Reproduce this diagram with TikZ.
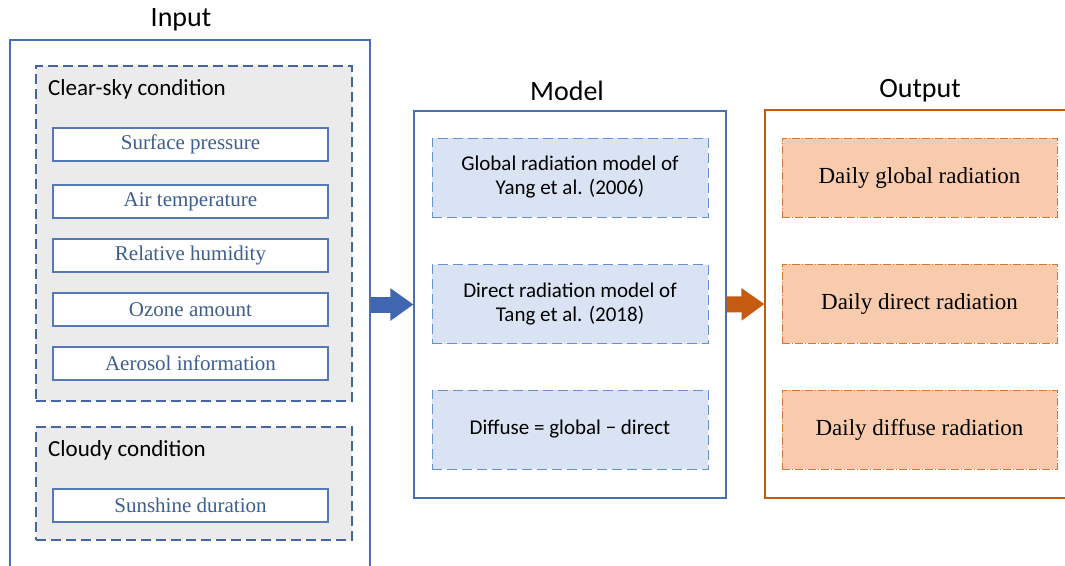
\documentclass[tikz,border=0pt]{standalone}
\usepackage{fontspec}
\setmainfont{Liberation Serif}
\newfontfamily\calibri{Carlito}
\usepackage{tikz}
\usetikzlibrary{arrows.meta,positioning}

\definecolor{frameblue}{HTML}{4A6FB0}
\definecolor{dashblue}{HTML}{44659E}
\definecolor{boxblue}{HTML}{5479B5}
\definecolor{textblue}{HTML}{3E5F8E}
\definecolor{modelfill}{HTML}{DAE3F3}
\definecolor{modeldash}{HTML}{6A8FD0}
\definecolor{arrowblue}{HTML}{3F66B0}
\definecolor{outorange}{HTML}{C55A11}
\definecolor{outfill}{HTML}{F8CBAD}
\definecolor{outdash}{HTML}{D2773A}
\definecolor{grayfill}{HTML}{EBEBEB}

\begin{document}
\begin{tikzpicture}[x=1pt,y=-1pt]
\tikzstyle{title}=[font=\calibri\fontsize{28}{32}\selectfont]
\tikzstyle{frame}=[draw=frameblue,line width=1.1pt,inner sep=0pt]
\tikzstyle{group}=[draw=dashblue,fill=grayfill,line width=1.4pt,dash pattern=on 10pt off 5pt,minimum width=316pt,inner sep=0pt]
\tikzstyle{grouplabel}=[anchor=west,inner sep=0pt,font=\calibri\fontsize{23}{26}\selectfont]
\tikzstyle{inbox}=[draw=boxblue,fill=white,line width=1.4pt,minimum width=275pt,minimum height=33pt,inner sep=0pt,outer sep=0pt,text=textblue,font=\fontsize{21}{23}\selectfont]
\tikzstyle{modelbox}=[draw=modeldash,fill=modelfill,line width=1pt,dash pattern=on 10pt off 5pt,minimum width=276pt,minimum height=79pt,inner sep=0pt,align=center,font=\calibri\fontsize{21}{24}\selectfont]
\tikzstyle{outbox}=[draw=outdash,fill=outfill,line width=0.8pt,dash pattern=on 8pt off 2pt on 1pt off 2pt,minimum width=275pt,minimum height=79pt,inner sep=0pt,font=\fontsize{23}{26}\selectfont]
\tikzstyle{fatarrow}=[line width=16pt,-{Triangle[length=23pt,width=31pt]}]

\useasboundingbox (0,0) rectangle (1065,565);
\clip (0,0) rectangle (1065,565);

% input
\node[title] (inputtitle) at (181,20) {Input};
\node[frame,minimum width=360pt,minimum height=560pt] (input) at (190,320) {};
\node[group,minimum height=335pt] (clearsky) at (194,233.5) {};
\node[grouplabel] (clearlabel) at (48,89) {Clear-sky condition};
\node[inbox] (pressure) at (190.5,144.5) {Surface pressure};
\node[inbox,below=24pt of pressure] (temperature) {Air temperature};
\node[inbox,below=21pt of temperature] (humidity) {Relative humidity};
\node[inbox,below=21pt of humidity] (ozone) {Ozone amount};
\node[inbox,below=21pt of ozone] (aerosol) {Aerosol information};
\node[group,minimum height=113pt] (cloudy) at (194,483.5) {};
\node[grouplabel] (cloudylabel) at (48,450) {Cloudy condition};
\node[inbox] (sunshine) at (190.5,505.5) {Sunshine duration};

% model
\node[title] (modeltitle) at (567,91) {Model};
\node[frame,minimum width=312pt,minimum height=387pt] (model) at (570,304.5) {};
\node[modelbox] (global) at (570,177.5) {Global radiation model of\\Yang et al. (2006)};
\node[modelbox] (direct) at (570,304) {Direct radiation model of\\Tang et al. (2018)};
\node[modelbox] (diffuse) at (570,429.5) {Diffuse = global − direct};

% output
\node[title] (outputtitle) at (920,91) {Output};
\node[frame,draw=outorange,minimum width=310pt,minimum height=388pt] (output) at (920,304) {};
\node[outbox] (dayglobal) at (919.5,177.5) {Daily global radiation};
\node[outbox] (daydirect) at (919.5,303.5) {Daily direct radiation};
\node[outbox] (daydiffuse) at (919.5,429.5) {Daily diffuse radiation};

\draw[fatarrow,arrowblue] (input.east |- model.west) -- (model.west);
\draw[fatarrow,outorange] (model.east) -- (output.west);
\end{tikzpicture}
\end{document}
